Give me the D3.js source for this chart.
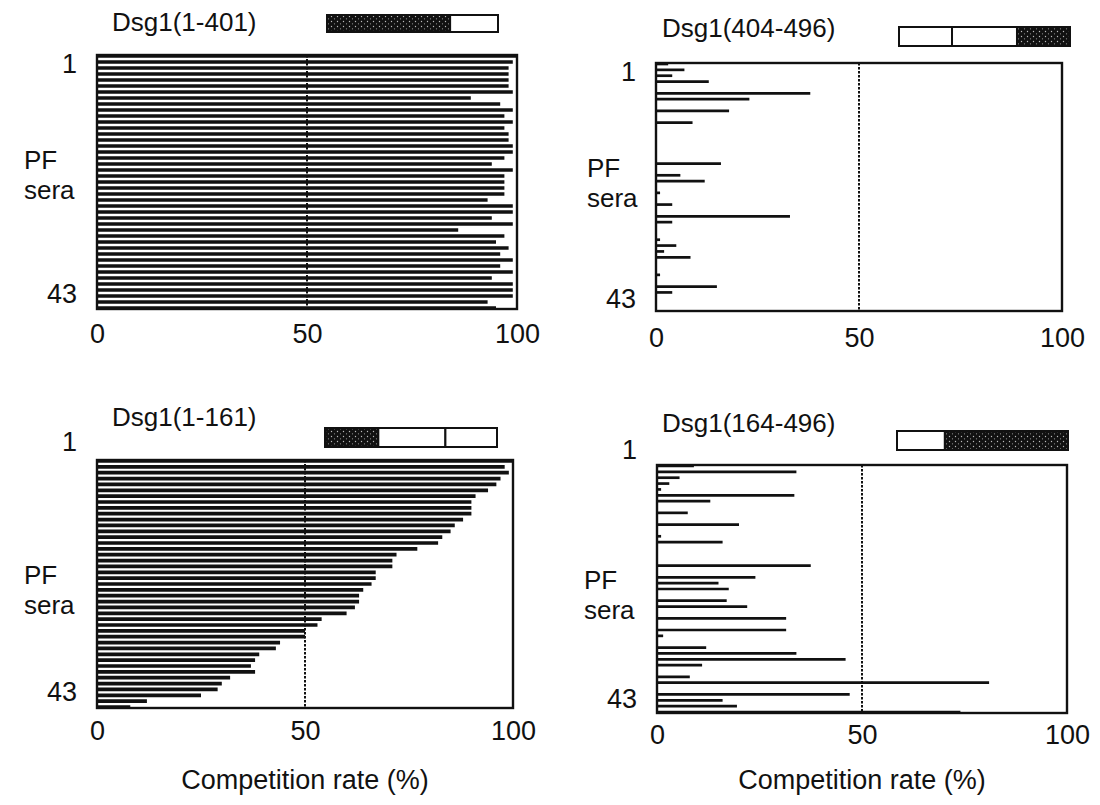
<!DOCTYPE html>
<html>
<head>
<meta charset="utf-8">
<script src="https://cdn.jsdelivr.net/npm/d3@7"></script>
<style>
  html, body { margin: 0; padding: 0; background: #fff; }
  svg { display: block; }
  text { font-family: "Liberation Sans", Arial, Helvetica, sans-serif; fill: #111; }
</style>
</head>
<body>
<svg id="chart" width="1100" height="805"></svg>
<script>
// ---------------- data ----------------
const panelTitles = ["Dsg1(1-401)", "Dsg1(404-496)", "Dsg1(1-161)", "Dsg1(164-496)"];
const seraIds = d3.range(1, 44);           // 43 PF sera, 1 (top) .. 43 (bottom)
const seraTickLabels = [1, 43];
const xTickValues = [0, 50, 100];
const xAxisTitle = "Competition rate (%)";
const yLabelLines = ["PF", "sera"];
const cutoff = 50;

// competition rate (%) per serum, rows 1..43
const rateDsg1_1_401 = [100, 99, 98, 98, 98, 98, 99, 89, 96, 99,
                        97, 99, 97, 98, 98, 99, 99, 97, 94, 99,
                        97, 97, 97, 97, 93, 99, 99, 94, 99, 86,
                        97, 95, 98, 96, 99, 96, 99, 94, 99, 99,
                        99, 93, 95];
const rateDsg1_404_496 = [3, 7, 4, 13, 0, 38, 23, 0, 18, 0,
                          9, 0, 0, 0, 0, 0, 0, 16, 0, 6,
                          12, 0, 1, 0, 4, 0, 33, 4, 0, 0,
                          1, 5, 2, 8.5, 0, 0, 1, 0, 15, 4,
                          0, 0, 0];
const rateDsg1_1_161 = [100, 98, 99, 97, 96, 94, 91, 90, 90, 90,
                        88, 86, 85, 83, 82, 77, 72, 71, 71, 67,
                        67, 66, 64, 63, 63, 62, 60, 54, 53, 50,
                        50, 44, 43, 39, 38, 37, 38, 32, 30, 29,
                        25, 12, 8];
const rateDsg1_164_496 = [9, 34, 5.5, 3, 1, 33.5, 13, 0, 7.5, 0,
                          20, 0, 1, 16, 0, 0, 0, 37.5, 0, 24,
                          15, 17.5, 0, 17, 22, 0, 31.5, 0, 31.5, 1.5,
                          0, 12, 34, 46, 11, 0, 8, 81, 0, 47,
                          16, 19.5, 74];

// construct schematic segments (fraction of box, filled = included region)
const constructSegments = [
  [{from: 0, to: 0.72, fill: true},  {from: 0.72, to: 1, fill: false}],
  [{from: 0, to: 0.31, fill: false}, {from: 0.31, to: 0.69, fill: false}, {from: 0.69, to: 1, fill: true}],
  [{from: 0, to: 0.31, fill: true},  {from: 0.31, to: 0.70, fill: false}, {from: 0.70, to: 1, fill: false}],
  [{from: 0, to: 0.28, fill: false}, {from: 0.28, to: 1, fill: true}]
];
const panelRates = [rateDsg1_1_401, rateDsg1_404_496, rateDsg1_1_161, rateDsg1_164_496];

// ---------------- layout ----------------
const layout = [
  {x0: 97,  x1: 517,  y0: 55,  y1: 309, title: [112, 31], box: [327, 15, 171, 17],
   ylx: 24, yly: 169, t1dy: 8, t43dy: -14, bw: 3.7, xty: 3, showXTitle: false},
  {x0: 656, x1: 1062, y0: 63,  y1: 311, title: [662, 37], box: [899, 27, 171, 19],
   ylx: 587, yly: 177, t1dy: 8, t43dy: -11, bw: 2.7, xty: 5, showXTitle: false},
  {x0: 97,  x1: 513,  y0: 460, y1: 708, title: [112, 426], box: [325, 428, 172, 19],
   ylx: 24, yly: 584, t1dy: -19, t43dy: -15, bw: 3.7, xty: 1, showXTitle: true},
  {x0: 657, x1: 1067, y0: 465, y1: 713, title: [662, 432], box: [897, 431, 171, 19],
   ylx: 584, yly: 589, t1dy: -16, t43dy: -13, bw: 2.7, xty: 0, showXTitle: true}
];
const fontSize = 26;
const tickFontSize = 27;
const xTitleFontSize = 27;

const svg = d3.select("#chart");

// stippled dark fill for schematic
const defs = svg.append("defs");
const pat = defs.append("pattern").attr("id", "stipple")
  .attr("patternUnits", "userSpaceOnUse").attr("width", 6).attr("height", 5);
pat.append("rect").attr("width", 6).attr("height", 5).attr("fill", "#111");
pat.append("circle").attr("cx", 1.5).attr("cy", 1.5).attr("r", 0.7).attr("fill", "#bbb");
pat.append("circle").attr("cx", 4.5).attr("cy", 3.8).attr("r", 0.6).attr("fill", "#999");

panelRates.forEach((rates, p) => {
  const L = layout[p];
  const g = svg.append("g");
  const x = d3.scaleLinear().domain([0, 100]).range([L.x0, L.x1]);
  const y = d3.scalePoint().domain(seraIds).range([L.y0 + 1, L.y1 - 1]);

  // bars (as thick lines)
  g.append("g").selectAll("line.bar")
    .data(rates.map((v, i) => ({id: seraIds[i], v})))
    .join("line")
    .attr("class", "bar")
    .attr("x1", x(0)).attr("x2", d => x(d.v))
    .attr("y1", d => y(d.id)).attr("y2", d => y(d.id))
    .attr("stroke", "#111").attr("stroke-width", L.bw);

  // dotted 50% line
  g.append("line")
    .attr("x1", x(cutoff)).attr("x2", x(cutoff))
    .attr("y1", L.y0).attr("y2", L.y1)
    .attr("stroke", "#111").attr("stroke-width", 2)
    .attr("stroke-dasharray", "2.5,1.5");

  // frame
  g.append("rect")
    .attr("x", L.x0).attr("y", L.y0)
    .attr("width", L.x1 - L.x0).attr("height", L.y1 - L.y0)
    .attr("fill", "none").attr("stroke", "#111").attr("stroke-width", 2.4);

  // x axis
  const xAxis = d3.axisBottom(x).tickValues(xTickValues).tickSize(0).tickPadding(12)
    .tickFormat(d3.format("d"));
  const xg = g.append("g").attr("transform", `translate(0,${L.y1 + L.xty})`).call(xAxis);
  xg.select(".domain").remove();
  xg.selectAll("text").style("font-size", tickFontSize + "px")
    .style("font-family", '"Liberation Sans", Arial, sans-serif').attr("fill", "#111");

  // y axis (1 and 43)
  const yAxis = d3.axisLeft(y).tickValues(seraTickLabels).tickSize(0).tickPadding(20);
  const yg = g.append("g").attr("transform", `translate(${L.x0},0)`).call(yAxis);
  yg.select(".domain").remove();
  yg.selectAll(".tick").attr("transform", d =>
    `translate(0,${y(d) + (d === seraTickLabels[0] ? L.t1dy : L.t43dy)})`);
  yg.selectAll("text").style("font-size", tickFontSize + "px")
    .style("font-family", '"Liberation Sans", Arial, sans-serif').attr("fill", "#111");

  // "PF sera"
  g.append("text").attr("x", L.ylx).attr("y", L.yly)
    .style("font-size", fontSize + "px").text(yLabelLines[0]);
  g.append("text").attr("x", L.ylx).attr("y", L.yly + 30)
    .style("font-size", fontSize + "px").text(yLabelLines[1]);

  // title
  g.append("text").attr("x", L.title[0]).attr("y", L.title[1])
    .style("font-size", fontSize + "px").text(panelTitles[p]);

  // construct schematic
  const [bx, by, bw, bh] = L.box;
  const bs = d3.scaleLinear().domain([0, 1]).range([bx, bx + bw]);
  g.append("g").selectAll("rect")
    .data(constructSegments[p])
    .join("rect")
    .attr("x", d => bs(d.from)).attr("y", by)
    .attr("width", d => bs(d.to) - bs(d.from)).attr("height", bh)
    .attr("fill", d => d.fill ? "url(#stipple)" : "#fff")
    .attr("stroke", "#111").attr("stroke-width", 2);

  // x-axis title
  if (L.showXTitle) {
    g.append("text").attr("x", (L.x0 + L.x1) / 2).attr("y", 789)
      .attr("text-anchor", "middle").style("font-size", xTitleFontSize + "px").text(xAxisTitle);
  }
});
</script>
</body>
</html>
